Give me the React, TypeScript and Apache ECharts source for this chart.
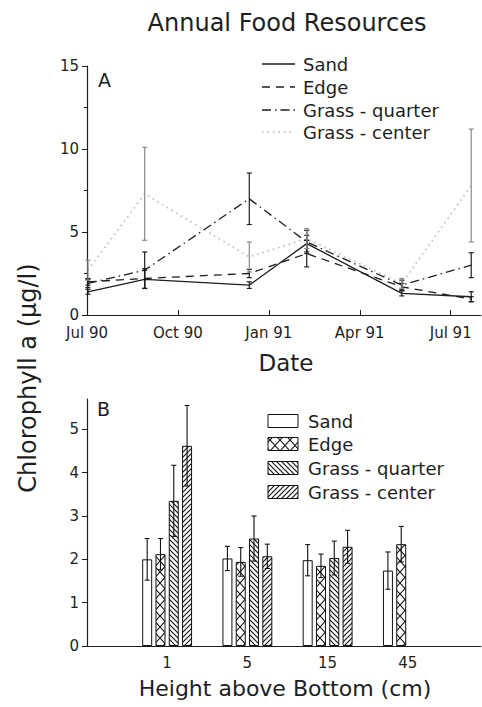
import React, { useEffect, useRef } from 'react';
import * as echarts from 'echarts';

// ---------- Panel A: seasonal chlorophyll (means and standard errors) ----------
const sampleDates = ['1990-07-02', '1990-08-29', '1990-12-12', '1991-02-08', '1991-05-13', '1991-07-22'];
const sandMeans = [1.4, 2.15, 1.8, 4.3, 1.3, 1.1];
const sandErr = [0.15, 0.55, 0.2, 0.5, 0.15, 0.3];
const edgeMeans = [2.0, 2.2, 2.5, 3.7, 1.7, 0.95];
const edgeErr = [0.2, 0.6, 0.25, 0.8, 0.2, 0.15];
const quarterMeans = [1.9, 2.7, 7.0, 4.4, 1.8, 3.0];
const quarterErr = [0.25, 1.1, 1.55, 0.7, 0.3, 0.75];
const centerMeans = [2.7, 7.3, 3.5, 4.6, 1.9, 7.8];
const centerErr = [0.6, 2.8, 0.9, 0.6, 0.3, 3.4];
const dateTickValues = [0, 3, 6, 9, 12];
const dateTickLabels = ['Jul 90', 'Oct 90', 'Jan 91', 'Apr 91', 'Jul 91'];
const seriesNames = ['Sand', 'Edge', 'Grass - quarter', 'Grass - center'];

// ---------- Panel B: chlorophyll by height above bottom ----------
const heights = ['1', '5', '15', '45'];
const barSand = [2.0, 2.02, 1.98, 1.74];
const barSandErr = [0.48, 0.28, 0.36, 0.43];
const barEdge = [2.12, 1.94, 1.85, 2.35];
const barEdgeErr = [0.36, 0.33, 0.27, 0.41];
const barQuarter = [3.35, 2.48, 2.03, null];
const barQuarterErr = [0.82, 0.52, 0.39, null];
const barCenter = [4.62, 2.07, 2.29, null];
const barCenterErr = [0.93, 0.28, 0.38, null];
const barYTicks = [0, 1, 2, 3, 4, 5];

const FONT = 'DejaVu Sans';
const INK = '#1e1e1e';
const BAR_W = 10;
const BAR_GAP = 0.33;

function monthsSinceJul90(d: string): number {
  const [y, m, day] = d.split('-').map(Number);
  const dim = new Date(y, m, 0).getDate();
  return (y - 1990) * 12 + (m - 7) + (day - 1) / dim;
}

function makeHatch(kind: 'cross' | 'back' | 'fwd') {
  const c = document.createElement('canvas');
  const w = kind === 'cross' ? 10 : 5;
  const h = kind === 'cross' ? 11 : 5;
  c.width = w;
  c.height = h;
  const g = c.getContext('2d')!;
  g.fillStyle = '#fff';
  g.fillRect(0, 0, w, h);
  g.strokeStyle = '#111';
  g.lineWidth = 1.1;
  g.beginPath();
  if (kind === 'cross') {
    g.moveTo(0, 0); g.lineTo(w, h);
    g.moveTo(w, 0); g.lineTo(0, h);
  } else if (kind === 'back') {
    g.moveTo(-1, -1); g.lineTo(w + 1, h + 1);
    g.moveTo(-1, h - 1); g.lineTo(1, h + 1);
    g.moveTo(w - 1, -1); g.lineTo(w + 1, 1);
  } else {
    g.moveTo(-1, h + 1); g.lineTo(w + 1, -1);
    g.moveTo(-1, 1); g.lineTo(1, -1);
    g.moveTo(w - 1, h + 1); g.lineTo(w + 1, h - 1);
  }
  g.stroke();
  return { image: c, repeat: 'repeat' } as any;
}

export default function App() {
  const ref = useRef<HTMLDivElement>(null);

  useEffect(() => {
    if (!ref.current) return;
    const chart = echarts.init(ref.current, null, { renderer: 'svg' });

    const xs = sampleDates.map(monthsSinceJul90);
    const lineMeans = [sandMeans, edgeMeans, quarterMeans, centerMeans];
    const lineErrs = [sandErr, edgeErr, quarterErr, centerErr];
    const lineColors = [INK, INK, INK, '#b8b8b8'];
    const errColors = [INK, INK, INK, '#8a8a8a'];
    const lineDash: any[] = ['solid', [8, 6], [9, 4, 1.5, 4], [1.5, 4]];

    const barFills = ['#fff', makeHatch('cross'), makeHatch('back'), makeHatch('fwd')];
    const barVals = [barSand, barEdge, barQuarter, barCenter];
    const barErrs = [barSandErr, barEdgeErr, barQuarterErr, barCenterErr];

    const labelStyle = { fontFamily: FONT, fontSize: 15, color: INK };

    const series: any[] = [];
    lineMeans.forEach((vals, k) => {
      series.push({
        type: 'line',
        name: seriesNames[k],
        xAxisIndex: 0,
        yAxisIndex: 0,
        data: xs.map((x, i) => [x, vals[i]]),
        showSymbol: false,
        symbol: 'none',
        lineStyle: { color: lineColors[k], width: k === 3 ? 1.6 : 1.3, type: lineDash[k] },
        z: 3 - k * 0.1,
      });
    });
    lineMeans.forEach((vals, k) => {
      series.push({
        type: 'custom',
        name: seriesNames[k] + ' SE',
        xAxisIndex: 0,
        yAxisIndex: 0,
        data: xs.map((x, i) => [x, vals[i] - lineErrs[k][i], vals[i] + lineErrs[k][i]]),
        encode: { x: 0, y: [1, 2] },
        z: 4,
        renderItem: (params: any, api: any) => {
          const x = api.value(0);
          const lo = api.coord([x, api.value(1)]);
          const hi = api.coord([x, api.value(2)]);
          const st = { stroke: errColors[k], lineWidth: 1.2 };
          const cw = 2.5;
          return {
            type: 'group',
            children: [
              { type: 'line', shape: { x1: lo[0], y1: lo[1], x2: hi[0], y2: hi[1] }, style: st },
              { type: 'line', shape: { x1: lo[0] - cw, y1: lo[1], x2: lo[0] + cw, y2: lo[1] }, style: st },
              { type: 'line', shape: { x1: hi[0] - cw, y1: hi[1], x2: hi[0] + cw, y2: hi[1] }, style: st },
            ],
          };
        },
      });
    });

    barVals.forEach((vals, k) => {
      series.push({
        type: 'bar',
        name: seriesNames[k] + ' (B)',
        xAxisIndex: 2,
        yAxisIndex: 2,
        data: vals.map((v) => (v == null ? '-' : v)),
        barWidth: BAR_W,
        barGap: BAR_GAP * 100 + '%',
        itemStyle: { color: barFills[k], borderColor: '#111', borderWidth: 1 },
        z: 2,
      });
    });
    barVals.forEach((vals, k) => {
      const data: any[] = [];
      vals.forEach((v, i) => {
        const e = barErrs[k][i];
        if (v != null && e != null) data.push([i, v - e, v + e]);
      });
      series.push({
        type: 'custom',
        name: seriesNames[k] + ' (B) SE',
        xAxisIndex: 2,
        yAxisIndex: 2,
        data,
        encode: { x: 0, y: [1, 2] },
        z: 5,
        renderItem: (params: any, api: any) => {
          const ci = api.value(0);
          const lo = api.coord([ci, api.value(1)]);
          const hi = api.coord([ci, api.value(2)]);
          const pitch = BAR_W * (1 + BAR_GAP);
          const x = lo[0] + (k - 1.5) * pitch;
          const st = { stroke: '#111', lineWidth: 1.1 };
          const cw = 2.5;
          return {
            type: 'group',
            children: [
              { type: 'line', shape: { x1: x, y1: lo[1], x2: x, y2: hi[1] }, style: st },
              { type: 'line', shape: { x1: x - cw, y1: lo[1], x2: x + cw, y2: lo[1] }, style: st },
              { type: 'line', shape: { x1: x - cw, y1: hi[1], x2: x + cw, y2: hi[1] }, style: st },
            ],
          };
        },
      });
    });

    // legends drawn as graphic elements
    const legendA: any[] = [];
    const rowsA = [64, 87, 110, 132];
    seriesNames.forEach((n, k) => {
      legendA.push({
        type: 'line',
        shape: { x1: 262, y1: rowsA[k], x2: 295, y2: rowsA[k] },
        style: { stroke: lineColors[k], lineWidth: 1.3, lineDash: lineDash[k] === 'solid' ? null : lineDash[k] },
      });
      legendA.push({
        type: 'text',
        x: 303,
        y: rowsA[k],
        style: { text: n, fontFamily: FONT, fontSize: 18, fill: INK, textVerticalAlign: 'middle', textAlign: 'left' },
      });
    });
    const legendB: any[] = [];
    const rowsB = [421, 444, 468, 492];
    seriesNames.forEach((n, k) => {
      legendB.push({
        type: 'rect',
        shape: { x: 268, y: rowsB[k] - 6.5, width: 30, height: 13 },
        style: { fill: barFills[k], stroke: '#111', lineWidth: 1 },
      });
      legendB.push({
        type: 'text',
        x: 308,
        y: rowsB[k],
        style: { text: n, fontFamily: FONT, fontSize: 18, fill: INK, textVerticalAlign: 'middle', textAlign: 'left' },
      });
    });

    const txt = (text: string, x: number, y: number, size: number, extra: any = {}) => ({
      type: 'text',
      x,
      y,
      ...extra,
      style: { text, fontFamily: FONT, fontSize: size, fill: INK, textAlign: 'center', textVerticalAlign: 'middle' },
    });

    const option: any = {
      animation: false,
      backgroundColor: '#fff',
      grid: [
        { left: 87, top: 66, width: 394, height: 249 },
        { left: 87, top: 399, width: 394, height: 247 },
        { left: 127, top: 399, width: 321, height: 247 },
      ],
      xAxis: [
        {
          type: 'value',
          gridIndex: 0,
          min: 0,
          max: 13,
          axisLine: { lineStyle: { color: INK, width: 1.2 } },
          axisTick: { inside: true, length: 5, customValues: dateTickValues, lineStyle: { color: INK } },
          axisLabel: {
            ...labelStyle,
            margin: 10,
            customValues: dateTickValues,
            formatter: (v: number) => {
              const i = dateTickValues.indexOf(Math.round(v));
              return i >= 0 ? dateTickLabels[i] : '';
            },
          },
          splitLine: { show: false },
        },
        {
          type: 'value',
          gridIndex: 1,
          min: 0,
          max: 1,
          axisLine: { lineStyle: { color: INK, width: 1.2 } },
          axisTick: { show: false },
          axisLabel: { show: false },
          splitLine: { show: false },
        },
        {
          type: 'category',
          gridIndex: 2,
          data: heights,
          axisLine: { show: false },
          axisTick: { show: false },
          axisLabel: { ...labelStyle, margin: 9 },
          splitLine: { show: false },
        },
      ],
      yAxis: [
        {
          type: 'value',
          gridIndex: 0,
          min: 0,
          max: 15,
          interval: 5,
          axisLine: { show: true, lineStyle: { color: INK, width: 1.2 } },
          axisTick: { show: true, length: 5, lineStyle: { color: INK } },
          minorTick: { show: true, splitNumber: 2, length: 3, lineStyle: { color: INK } },
          axisLabel: { ...labelStyle, margin: 8 },
          splitLine: { show: false },
        },
        {
          type: 'value',
          gridIndex: 1,
          min: 0,
          max: 5.7,
          axisLine: { show: true, lineStyle: { color: INK, width: 1.2 } },
          axisTick: { show: true, length: 5, customValues: barYTicks, lineStyle: { color: INK } },
          axisLabel: { ...labelStyle, margin: 8, customValues: barYTicks },
          splitLine: { show: false },
        },
        {
          type: 'value',
          gridIndex: 2,
          min: 0,
          max: 5.7,
          show: false,
          splitLine: { show: false },
        },
      ],
      series,
      graphic: [
        txt('Annual Food Resources', 287, 23, 24),
        { type: 'text', x: 98, y: 80, style: { text: 'A', fontFamily: FONT, fontSize: 19, fill: INK, textAlign: 'left', textVerticalAlign: 'middle' } },
        { type: 'text', x: 97, y: 409, style: { text: 'B', fontFamily: FONT, fontSize: 19, fill: INK, textAlign: 'left', textVerticalAlign: 'middle' } },
        txt('Date', 286, 363, 23),
        txt('Height above Bottom (cm)', 285, 688, 22),
        txt('Chlorophyll a (μg/l)', 28, 378, 24, { rotation: Math.PI / 2 }),
        ...legendA,
        ...legendB,
      ],
    };

    chart.setOption(option);
    return () => chart.dispose();
  }, []);

  return (
    <div
      ref={ref}
      style={{ position: 'fixed', left: 0, top: 0, width: 482, height: 707, background: '#fff' }}
    />
  );
}
